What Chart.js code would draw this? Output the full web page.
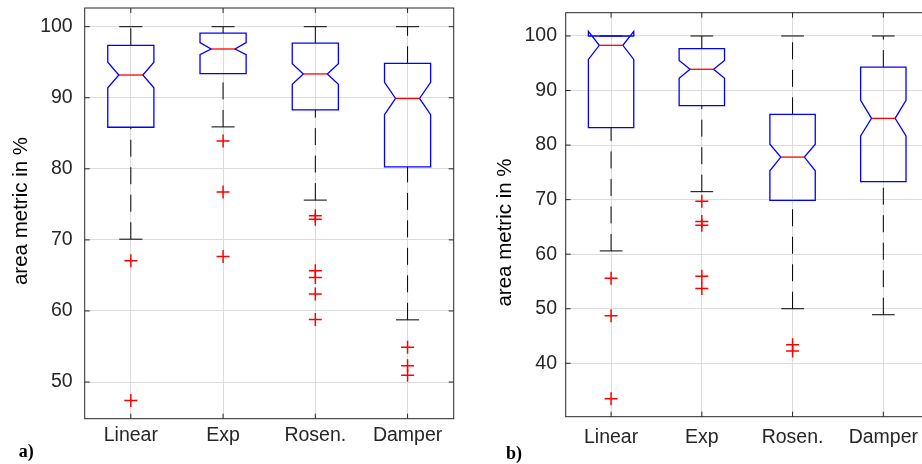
<!DOCTYPE html>
<html>
<head>
<meta charset="utf-8">
<script src="https://cdn.jsdelivr.net/npm/chart.js@4.4.0/dist/chart.umd.min.js"></script>
<style>
  html, body { margin: 0; padding: 0; background: #fff; overflow: hidden; width: 922px; height: 464px; }
  #chartA { position: absolute; left: 0; top: 0; }
  #chartB { position: absolute; left: 462px; top: 0; }
</style>
</head>
<body>
<canvas id="chartA" width="462" height="464"></canvas>
<canvas id="chartB" width="480" height="464"></canvas>
<script>
// data
const categories = ['Linear', 'Exp', 'Rosen.', 'Damper'];
const yTicksA = [50, 60, 70, 80, 90, 100];
const yTicksB = [40, 50, 60, 70, 80, 90, 100];
const yRangeA = [44.84, 102.63];
const yRangeB = [30.21, 104.27];

// panel a)
const lowerWhiskerA = [70.1, 85.9, 75.6, 58.75];
const q1A = [85.85, 93.4, 88.3, 80.27];
const medianA = [93.2, 96.86, 93.35, 89.9];
const q3A = [97.38, 99.1, 97.7, 94.85];
const upperWhiskerA = [100, 100, 100, 100];
const notchLowA = [91.4, 96.06, 91.9, 87.62];
const notchHighA = [95.0, 97.75, 94.8, 92.18];
const outliersA = [
  [67.05, 47.4],
  [83.9, 76.75, 67.65],
  [73.4, 72.9, 65.65, 64.7, 62.4, 58.8],
  [54.9, 52.3, 50.95]
];

// panel b)
const lowerWhiskerB = [60.6, 71.46, 50.0, 48.9];
const q1B = [83.2, 87.22, 69.88, 73.3];
const medianB = [98.29, 93.9, 77.8, 84.9];
const q3B = [100, 97.68, 85.64, 94.3];
const upperWhiskerB = [100, 100, 100, 100];
const notchLowB = [95.7, 92.25, 75.3, 81.7];
const notchHighB = [100.86, 95.5, 80.15, 88.2];
const outliersB = [
  [55.6, 48.7, 33.5],
  [69.7, 66.0, 65.3, 55.95, 53.7],
  [43.4, 42.25],
  []
];

const axisColor = '#262626';
const gridColor = '#dcdcdc';
const tickFont = { family: '"Liberation Sans", Arial, sans-serif', size: 19.5 };

function line(ctx, x1, y1, x2, y2) {
  ctx.beginPath();
  ctx.moveTo(x1, y1);
  ctx.lineTo(x2, y2);
  ctx.stroke();
}

// notched boxes + whiskers drawn through the chart scales
const boxPlotPlugin = {
  id: 'boxPlot',
  beforeDatasetsDraw(chart, args, opts) {
    const { ctx, scales: { x, y } } = chart;
    const s = opts.stats;
    ctx.save();
    categories.forEach((c, i) => {
      const pos = i + 1;
      const cx = x.getPixelForValue(pos);
      const capL = x.getPixelForValue(pos - 0.125);
      const capR = x.getPixelForValue(pos + 0.125);
      // whiskers (dashed), drawn upward
      ctx.strokeStyle = '#000';
      ctx.lineWidth = 1;
      ctx.setLineDash([17, 10.5]);
      line(ctx, cx, y.getPixelForValue(s.lower[i]), cx, y.getPixelForValue(s.q1[i]));
      line(ctx, cx, y.getPixelForValue(s.q3[i]), cx, y.getPixelForValue(s.upper[i]));
      ctx.setLineDash([]);
      line(ctx, capL, y.getPixelForValue(s.lower[i]), capR, y.getPixelForValue(s.lower[i]));
      line(ctx, capL, y.getPixelForValue(s.upper[i]), capR, y.getPixelForValue(s.upper[i]));
    });
    categories.forEach((c, i) => {
      const pos = i + 1;
      const L = x.getPixelForValue(pos - 0.25);
      const R = x.getPixelForValue(pos + 0.25);
      const NL = x.getPixelForValue(pos - 0.13);
      const NR = x.getPixelForValue(pos + 0.13);
      const yq1 = y.getPixelForValue(s.q1[i]);
      const yq3 = y.getPixelForValue(s.q3[i]);
      const ymed = y.getPixelForValue(s.median[i]);
      const ylo = y.getPixelForValue(s.notchLow[i]);
      const yhi = y.getPixelForValue(s.notchHigh[i]);
      ctx.strokeStyle = '#0000ff';
      ctx.lineWidth = 1.3;
      ctx.beginPath();
      ctx.moveTo(L, yq1);
      ctx.lineTo(L, ylo);
      ctx.lineTo(NL, ymed);
      ctx.lineTo(L, yhi);
      ctx.lineTo(L, yq3);
      ctx.lineTo(R, yq3);
      ctx.lineTo(R, yhi);
      ctx.lineTo(NR, ymed);
      ctx.lineTo(R, ylo);
      ctx.lineTo(R, yq1);
      ctx.closePath();
      ctx.stroke();
      ctx.strokeStyle = '#ff0000';
      line(ctx, NL, ymed, NR, ymed);
    });
    ctx.restore();
  },
  afterDatasetsDraw(chart) {
    // axes box with inward ticks
    const { ctx, chartArea: a, scales: { x, y } } = chart;
    ctx.save();
    ctx.strokeStyle = axisColor;
    ctx.lineWidth = 1;
    ctx.strokeRect(a.left, a.top, a.right - a.left, a.bottom - a.top);
    y.ticks.forEach(t => {
      const py = y.getPixelForValue(t.value);
      line(ctx, a.left, py, a.left + 5, py);
      line(ctx, a.right - 5, py, a.right, py);
    });
    x.ticks.forEach(t => {
      const px = x.getPixelForValue(t.value);
      line(ctx, px, a.bottom, px, a.bottom - 5);
      line(ctx, px, a.top, px, a.top + 5);
    });
    ctx.restore();
  },
  afterDraw(chart, args, opts) {
    const { ctx } = chart;
    ctx.save();
    ctx.fillStyle = '#000';
    ctx.font = '20.5px "Liberation Sans", Arial, sans-serif';
    ctx.textAlign = 'center';
    ctx.textBaseline = 'alphabetic';
    ctx.translate(opts.yLabelPos[0], opts.yLabelPos[1]);
    ctx.rotate(-Math.PI / 2);
    ctx.fillText('area metric in %', 0, 0);
    ctx.restore();
    ctx.save();
    ctx.fillStyle = '#000';
    ctx.font = 'bold 18px "Liberation Serif", "Times New Roman", serif';
    ctx.textAlign = 'left';
    ctx.textBaseline = 'alphabetic';
    ctx.fillText(opts.tag, opts.tagPos[0], opts.tagPos[1]);
    ctx.restore();
  }
};

function makeChart(id, o) {
  const points = o.outliers.flatMap((vals, i) => vals.map(v => ({ x: i + 1, y: v })));
  return new Chart(document.getElementById(id), {
    type: 'scatter',
    data: {
      datasets: [{
        data: points,
        pointStyle: 'cross',
        pointRadius: 6.5,
        pointHoverRadius: 6.5,
        borderColor: '#ff0000',
        backgroundColor: '#ff0000',
        borderWidth: 1.5
      }]
    },
    options: {
      responsive: false,
      animation: false,
      events: [],
      layout: { autoPadding: false, padding: o.padding },
      plugins: {
        legend: { display: false },
        tooltip: { enabled: false },
        boxPlot: { stats: o.stats, yLabelPos: o.yLabelPos, tag: o.tag, tagPos: o.tagPos }
      },
      scales: {
        x: {
          type: 'linear',
          min: 0.5,
          max: 4.5,
          afterBuildTicks: ax => { ax.ticks = categories.map((c, i) => ({ value: i + 1 })); },
          afterFit: s => { s.height = o.xHeight; s.paddingLeft = 0; s.paddingRight = 0; },
          ticks: {
            callback: v => categories[Math.round(v) - 1],
            font: tickFont,
            color: axisColor,
            padding: o.xPad,
            maxRotation: 0,
            autoSkip: false
          },
          grid: { color: gridColor, lineWidth: 1, drawTicks: false },
          border: { display: false }
        },
        y: {
          min: o.yRange[0],
          max: o.yRange[1],
          afterBuildTicks: ax => { ax.ticks = o.yTicks.map(v => ({ value: v })); },
          afterFit: s => { s.width = o.yWidth; s.paddingTop = 0; s.paddingBottom = 0; },
          ticks: {
            callback: v => String(v),
            font: tickFont,
            color: axisColor,
            padding: o.yPad
          },
          grid: { color: gridColor, lineWidth: 1, drawTicks: false },
          border: { display: false }
        }
      }
    },
    plugins: [boxPlotPlugin]
  });
}

makeChart('chartA', {
  stats: { lower: lowerWhiskerA, q1: q1A, median: medianA, q3: q3A, upper: upperWhiskerA, notchLow: notchLowA, notchHigh: notchHighA },
  outliers: outliersA,
  yTicks: yTicksA,
  yRange: yRangeA,
  padding: { top: 8, right: 8.3, bottom: 0, left: 0 },
  yWidth: 84.7,
  xHeight: 45.3,
  xPad: 5,
  yPad: 12,
  yLabelPos: [26.7, 211],
  tag: 'a)',
  tagPos: [18.7, 457]
});

makeChart('chartB', {
  stats: { lower: lowerWhiskerB, q1: q1B, median: medianB, q3: q3B, upper: upperWhiskerB, notchLow: notchLowB, notchHigh: notchHighB },
  outliers: outliersB,
  yTicks: yTicksB,
  yRange: yRangeB,
  padding: { top: 12.7, right: 13.3, bottom: 0, left: 0 },
  yWidth: 103.7,
  xHeight: 47.3,
  xPad: 9,
  yPad: 8.7,
  yLabelPos: [49, 232.5],
  tag: 'b)',
  tagPos: [44, 459]
});
</script>
</body>
</html>
